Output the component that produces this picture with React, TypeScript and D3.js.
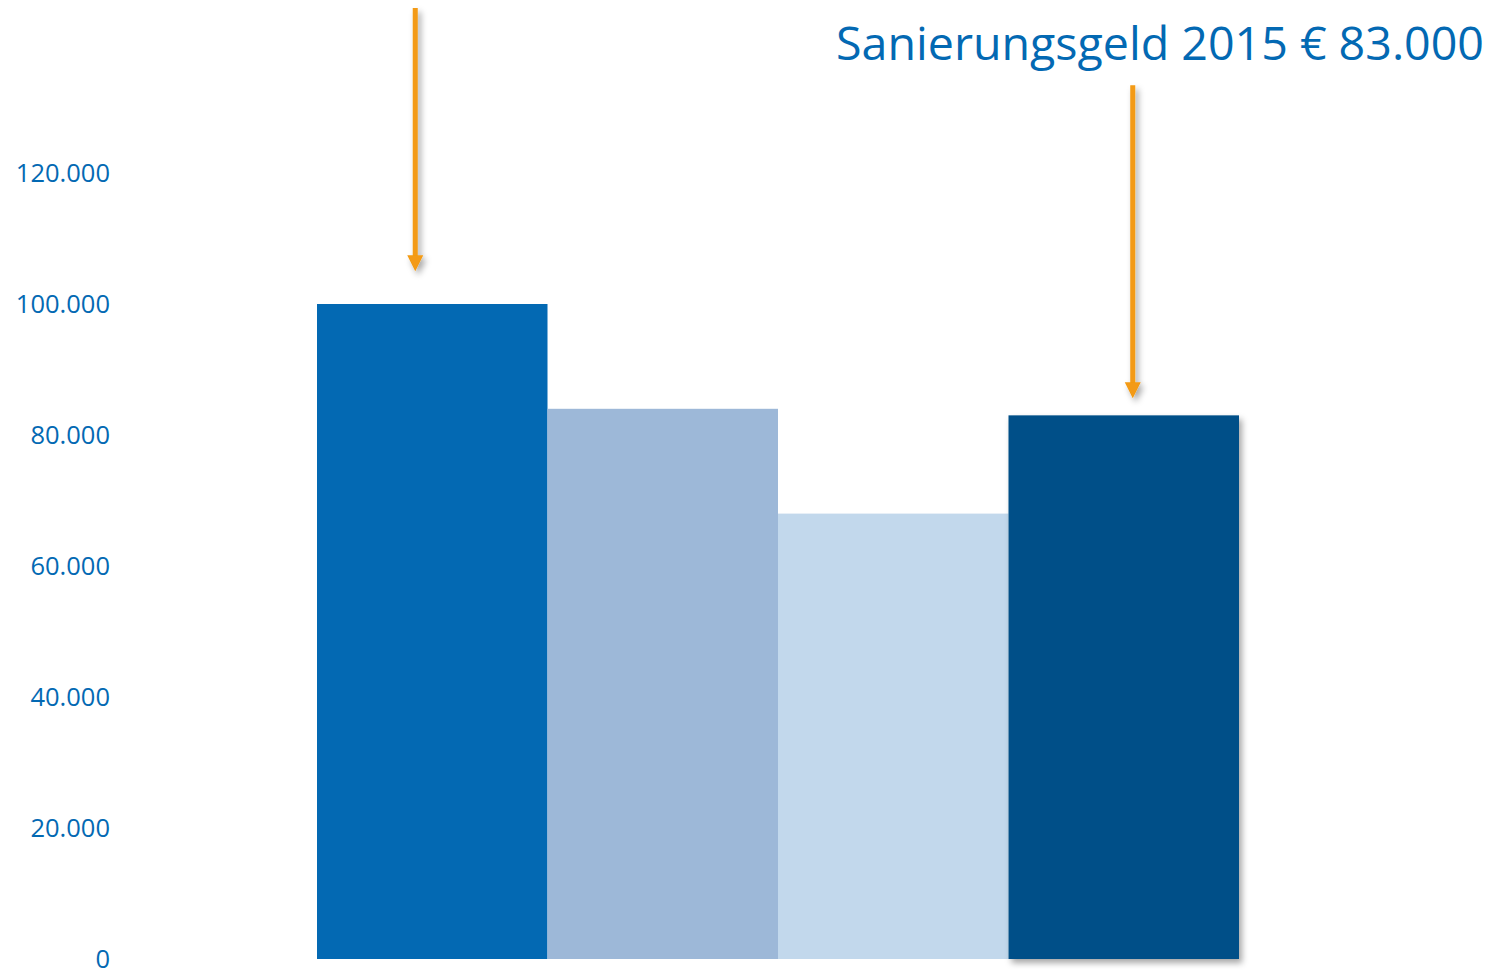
import { useEffect, useRef } from "react";
import * as d3 from "d3";

const categories = ["A", "B", "C", "D"];
const values = [100000, 84000, 68000, 83000];
const barColors = ["#0369b3", "#9db8d8", "#c2d8ec", "#024f88"];
const tickValues = [0, 20000, 40000, 60000, 80000, 100000, 120000];
const tickLabels = ["0", "20.000", "40.000", "60.000", "80.000", "100.000", "120.000"];
const title = "Sanierungsgeld 2015 € 83.000";
// arrows point at bar index, start at value
const arrowBars = [0, 3];
const arrowStart = [145200, 133400];
const arrowEnd = [105000, 85600];

export default function App() {
  const ref = useRef<SVGSVGElement>(null);

  useEffect(() => {
    const width = 1493, height = 970;
    const svg = d3.select(ref.current).attr("width", width).attr("height", height);
    svg.selectAll("*").remove();

    const y = d3.scaleLinear().domain([0, 120000]).range([959, 173]);
    const x = d3.scaleBand().domain(categories).range([317, 1239]).padding(0);

    const defs = svg.append("defs");
    const f = defs.append("filter").attr("id", "shadow")
      .attr("x", "-10%").attr("y", "-10%").attr("width", "130%").attr("height", "130%");
    f.append("feDropShadow").attr("dx", 3).attr("dy", 4).attr("stdDeviation", 3)
      .attr("flood-color", "#000").attr("flood-opacity", 0.35);

    // y labels
    svg.append("g").selectAll("text")
      .data(tickValues)
      .enter()
      .append("text")
      .attr("x", 110)
      .attr("y", d => y(d))
      .attr("dy", "0.34em")
      .attr("text-anchor", "end")
      .style("font-family", "'Open Sans', sans-serif")
      .style("font-size", "25.5px")
      .attr("fill", "#0369b3")
      .text((d, i) => tickLabels[i]);

    // bars
    svg.append("g").selectAll("rect")
      .data(values)
      .enter()
      .append("rect")
      .attr("x", (d, i) => x(categories[i])!)
      .attr("width", x.bandwidth())
      .attr("y", d => y(d))
      .attr("height", d => y(0) - y(d))
      .attr("fill", (d, i) => barColors[i])
      .attr("filter", (d, i) => (i === 3 ? "url(#shadow)" : null));

    // arrows
    const ag = svg.append("g").attr("filter", "url(#shadow)");
    arrowBars.forEach((b, i) => {
      const cx = x(categories[b])! + x.bandwidth() / 2 + (i === 0 ? -17 : 9);
      const y0 = y(arrowStart[i]);
      const y1 = y(arrowEnd[i]);
      ag.append("line")
        .attr("x1", cx).attr("x2", cx)
        .attr("y1", y0).attr("y2", y1 - 15)
        .attr("stroke", "#f39a12").attr("stroke-width", 5);
      ag.append("path")
        .attr("d", `M${cx - 8},${y1 - 16} L${cx + 8},${y1 - 16} L${cx},${y1} Z`)
        .attr("fill", "#f39a12");
    });

    svg.append("text")
      .attr("x", 1484)
      .attr("y", 60)
      .attr("text-anchor", "end")
      .attr("textLength", 648)
      .attr("lengthAdjust", "spacingAndGlyphs")
      .style("font-family", "'Open Sans', sans-serif")
      .style("font-size", "46px")
      .attr("fill", "#0369b3")
      .text(title);
  }, []);

  return (
    <div style={{ position: "absolute", left: 0, top: 0, background: "#fff" }}>
      <svg ref={ref} style={{ display: "block" }}></svg>
    </div>
  );
}
